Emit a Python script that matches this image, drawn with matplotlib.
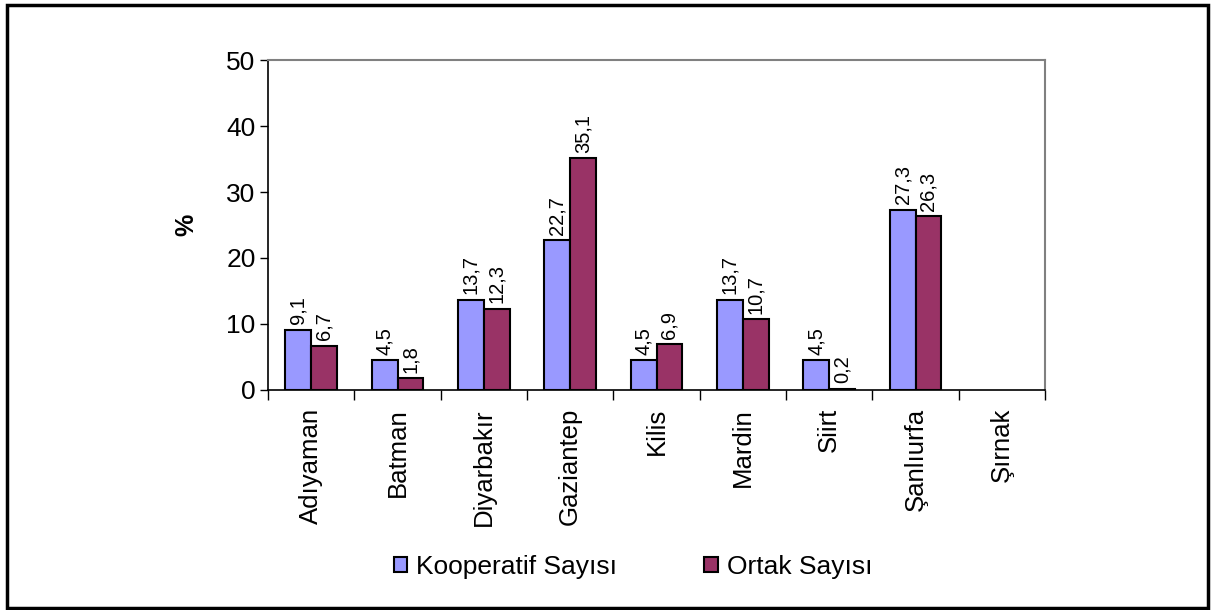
import numpy as np
import matplotlib
matplotlib.use('Agg')
import matplotlib.pyplot as plt
from matplotlib.patches import Rectangle

plt.rcParams['font.family'] = ['Liberation Sans', 'DejaVu Sans']

# data
iller = ['Adıyaman', 'Batman', 'Diyarbakır', 'Gaziantep', 'Kilis',
         'Mardin', 'Siirt', 'Şanlıurfa', 'Şırnak']
kooperatif = [9.1, 4.5, 13.7, 22.7, 4.5, 13.7, 4.5, 27.3, np.nan]
ortak = [6.7, 1.8, 12.3, 35.1, 6.9, 10.7, 0.2, 26.3, np.nan]

fig = plt.figure(figsize=(12.13, 6.10), dpi=100)
ax = fig.add_axes([0.221, 0.3607, 0.6405, 0.5409])

x = np.arange(len(iller))
w = 0.3
b1 = ax.bar(x - w/2, kooperatif, w, color='#9999FF', edgecolor='black',
            linewidth=1.5, label='Kooperatif Sayısı')
b2 = ax.bar(x + w/2, ortak, w, color='#993366', edgecolor='black',
            linewidth=1.5, label='Ortak Sayısı')

# value labels, comma decimals, rotated like the original
for bars, vals in [(b1, kooperatif), (b2, ortak)]:
    for rect, v in zip(bars, vals):
        if np.isnan(v):
            continue
        ax.annotate(f'{v:.1f}'.replace('.', ','),
                    (rect.get_x() + rect.get_width()/2, v),
                    xytext=(0, 4), textcoords='offset points',
                    rotation=90, ha='center', va='bottom', fontsize=14.5)

ax.set_xlim(-0.5, len(iller) - 0.5)
ax.set_ylim(0, 50)
ax.set_yticks(range(0, 51, 10))
ax.set_xticks(x)
ax.set_xticklabels(iller, rotation=90, fontsize=18.5)
ax.tick_params(axis='x', length=0, pad=13)
ax.set_xticks(np.arange(-0.5, len(iller)), minor=True)
ax.tick_params(axis='x', which='minor', length=7, width=1)
ax.tick_params(axis='y', labelsize=19, length=6, width=1, pad=3)
ax.set_ylabel('%', fontsize=18, fontweight='bold', labelpad=20)

for s in ['top', 'right']:
    ax.spines[s].set_color('#808080')
    ax.spines[s].set_linewidth(1.5)
for s in ['left', 'bottom']:
    ax.spines[s].set_linewidth(1.2)

fig.legend(handles=[b1, b2], loc='center', bbox_to_anchor=(0.522, 0.071),
           ncol=2, frameon=False, fontsize=19, handlelength=0.5,
           handleheight=0.5, handletextpad=0.35, columnspacing=3.3)

# outer chart border
fig.patches.append(Rectangle((0.006, 0.004), 0.99, 0.988, transform=fig.transFigure,
                             fill=False, edgecolor='black', linewidth=2.5))

fig.savefig('out.png', dpi=100)
